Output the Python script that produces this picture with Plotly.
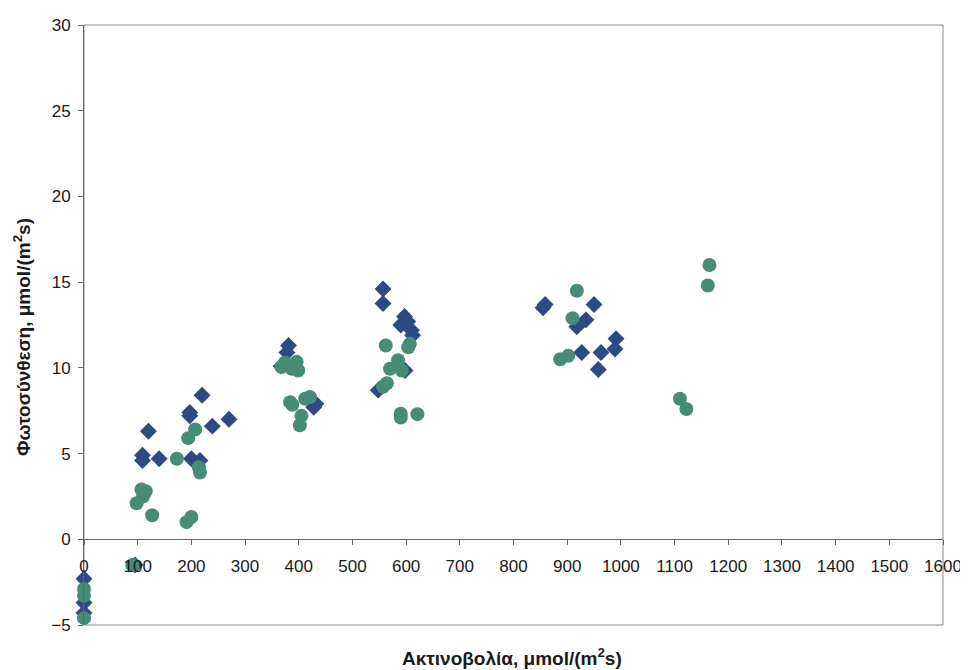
import plotly.graph_objects as go

# Series 1: blue diamonds
blue_x = [0, 0, 0, 95, 120, 109, 109, 140, 197, 197, 220, 239, 270, 200, 216,
          381, 378, 367, 428, 432,
          557, 557, 597, 603, 590, 610, 612, 548, 598,
          859, 855, 950, 935, 918, 927, 963, 991, 989, 958]
blue_y = [-2.3, -3.7, -4.3, -1.5, 6.3, 4.9, 4.6, 4.7, 7.4, 7.2, 8.4, 6.6, 7.0, 4.7, 4.6,
          11.3, 10.9, 10.1, 7.7, 7.9,
          14.6, 13.75, 13.0, 12.7, 12.5, 12.2, 11.9, 8.7, 9.85,
          13.7, 13.5, 13.7, 12.8, 12.4, 10.9, 10.9, 11.7, 11.1, 9.9]

# Series 2: green circles
green_x = [0, 0, 0, 90, 173, 207, 194, 216, 214, 107, 115, 110, 98, 127, 191, 200,
           396, 374, 368, 387, 399, 384, 388, 421, 412, 405, 402,
           562, 607, 604, 585, 570, 592, 564, 557, 590, 590, 621,
           918, 910, 887, 902, 1110, 1122, 1165, 1162]
green_y = [-2.9, -3.3, -4.6, -1.5, 4.7, 6.4, 5.9, 3.9, 4.2, 2.9, 2.8, 2.5, 2.1, 1.4, 1.0, 1.3,
           10.35, 10.3, 10.05, 9.95, 9.85, 8.0, 7.85, 8.3, 8.2, 7.2, 6.65,
           11.3, 11.4, 11.2, 10.45, 9.95, 9.85, 9.1, 8.9, 7.33, 7.1, 7.3,
           14.5, 12.9, 10.5, 10.7, 8.2, 7.6, 16.0, 14.8]

x_ticks = list(range(0, 1601, 100))
y_ticks = list(range(-5, 31, 5))

x_title = "Ακτινοβολία, μmol/(m<sup>2</sup>s)"
y_title = "Φωτοσύνθεση, μmol/(m<sup>2</sup>s)"

fig = go.Figure()
fig.add_trace(go.Scatter(x=blue_x, y=blue_y, mode="markers", cliponaxis=False,
                         marker=dict(symbol="diamond", size=13, color="#2E4A82"),
                         showlegend=False))
fig.add_trace(go.Scatter(x=green_x, y=green_y, mode="markers", cliponaxis=False,
                         marker=dict(symbol="circle", size=14, color="#478C77"),
                         showlegend=False))

font = "Liberation Sans, Arial, sans-serif"
fig.update_layout(
    width=960, height=662,
    margin=dict(l=76, r=25, t=17, b=45),
    paper_bgcolor="white", plot_bgcolor="white",
    font=dict(family=font, size=17, color="#1a1a1a"),
    xaxis=dict(range=[0, 1600], tickvals=x_ticks, showgrid=False, zeroline=False,
               anchor="free", position=5 / 35, automargin=False,
               showline=True, linecolor="#666666", linewidth=1,
               ticks="outside", ticklen=5, tickcolor="#666666",
               ticklabelstandoff=6, ticklabeloverflow="allow"),
    yaxis=dict(range=[-5, 30], tickvals=y_ticks, showgrid=False, zeroline=False,
               domain=[0, 1], automargin=False,
               showline=True, linecolor="#666666", linewidth=1,
               ticks="outside", ticklen=5, tickcolor="#666666",
               ticklabelstandoff=4),
    shapes=[dict(type="rect", xref="paper", yref="paper", x0=0, x1=1, y0=0, y1=1,
                 line=dict(color="#888888", width=1), layer="below")],
    annotations=[
        dict(text="<b>" + x_title + "</b>", xref="paper", yref="paper",
             x=(512 - 84) / 859, y=-32 / 600, xanchor="center", yanchor="middle",
             showarrow=False, font=dict(size=19, color="#1a1a1a")),
        dict(text="<b>" + y_title + "</b>", xref="paper", yref="paper",
             x=-62 / 859, y=(625 - 337) / 600, xanchor="center", yanchor="middle",
             textangle=-90, showarrow=False, font=dict(size=19, color="#1a1a1a")),
    ],
)

fig.write_html("out.html")
